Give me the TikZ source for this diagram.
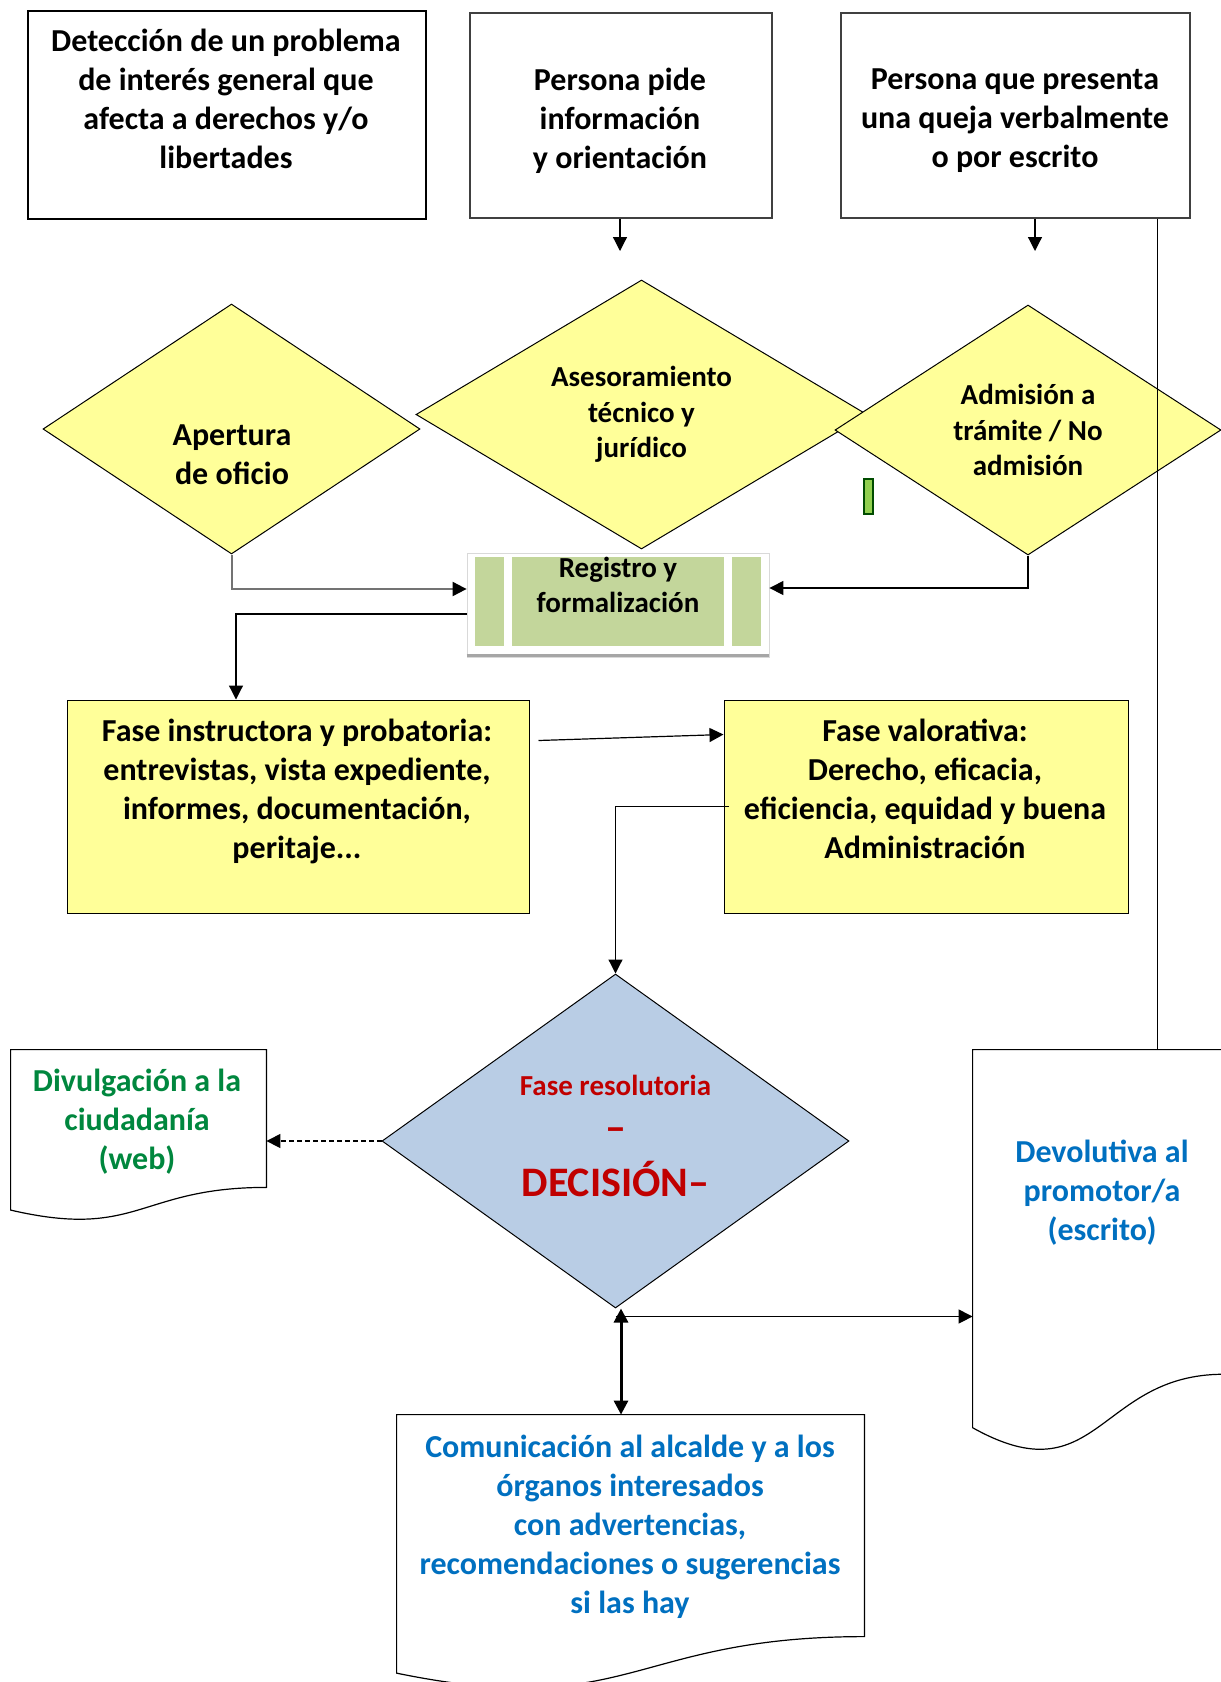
\documentclass[tikz,border=0pt]{standalone}
\usepackage{fontspec}
\setmainfont{Carlito}
\usetikzlibrary{shapes.geometric,arrows.meta,calc}
\definecolor{amarillo}{RGB}{255,255,153}
\definecolor{verdereg}{RGB}{195,214,155}
\definecolor{azuldec}{RGB}{185,205,229}
\definecolor{rojodec}{RGB}{192,0,0}
\definecolor{azultxt}{RGB}{0,112,192}
\definecolor{verdetxt}{RGB}{0,135,62}
\definecolor{verdemarca}{RGB}{146,208,80}
\begin{document}
\begin{tikzpicture}[x=0.5pt, y=-0.5pt, >={Triangle[length=7pt,width=7pt]},
  caja/.style={draw, fill=white, line width=0.6pt, inner sep=0pt},
  fase/.style={draw, fill=amarillo, line width=0.5pt, inner sep=0pt},
  rombo/.style={diamond, aspect=1.6, draw, fill=amarillo, line width=0.5pt, inner sep=0pt,
    align=center, font=\bfseries\fontsize{14.5pt}{17.7pt}\selectfont},
  hoja/.style={inner sep=0pt},
  txt/.style={align=center, inner sep=0pt, font=\bfseries\fontsize{16pt}{19.5pt}\selectfont},
  txtpeq/.style={align=center, inner sep=0pt, font=\bfseries\fontsize{14.5pt}{17.5pt}\selectfont},
  linea/.style={line width=0.6pt}]
\useasboundingbox (0,0) rectangle (1221,1682);
\clip (0,0) rectangle (1221,1682);
%
% cajas de arriba
\node[caja, line width=0.8pt, minimum width=199pt, minimum height=104pt] (deteccion) at (227,115) {};
\node[txt] (deteccion-txt) at (226,99) {Detección de un problema\\de interés general que\\afecta a derechos y/o\\libertades};
\node[caja, draw=black!75, minimum width=151pt, minimum height=102.5pt] (persona) at (621,115.5) {};
\node[txt] (persona-txt) at (620,120.5) {Persona pide\\información\\y orientación};
\node[caja, draw=black!75, minimum width=174.5pt, minimum height=102.5pt] (queja) at (1015.5,115.5) {};
\node[txt] (queja-txt) at (1015,120.5) {Persona que presenta\\una queja verbalmente\\o por escrito};
%
% rombos
\node[rombo, minimum width=188.5pt, minimum height=125pt] (apertura) at (231.5,429) {};
\node[txt] (apertura-txt) at (232,454.5) {Apertura\\de oficio};
\node[rombo, minimum width=225.5pt, minimum height=134.5pt] (asesora) at (641.5,414.5) {Asesoramiento\\técnico y\\jurídico};
\node[rombo, minimum width=193pt, minimum height=125pt] (admision) at (1028,430) {Admisión a\\trámite / No\\admisión};
\node[draw=black!70!green, fill=verdemarca, line width=0.8pt, minimum width=4.5pt, minimum height=17.5pt, inner sep=0pt] (marca) at (868.5,496.5) {};
%
% registro
\node[draw=black!15, fill=white, minimum width=151pt, minimum height=52pt, inner sep=0pt] (registro) at (618,605) {};
\fill[verdereg] ([shift={(4pt,-2pt)}]registro.north west) rectangle ([shift={(18.5pt,5.5pt)}]registro.south west);
\fill[verdereg] ([shift={(22.5pt,-2pt)}]registro.north west) rectangle ([shift={(128.5pt,5.5pt)}]registro.south west);
\fill[verdereg] ([shift={(132.5pt,-2pt)}]registro.north west) rectangle ([shift={(147pt,5.5pt)}]registro.south west);
\draw[black!35, line width=1.5pt] ([yshift=1pt]registro.south west) -- ([yshift=1pt]registro.south east);
\node[txtpeq] (registro-txt) at (618,584.5) {Registro y\\formalización};
%
% fases
\node[fase, minimum width=231pt, minimum height=106.5pt] (instructora) at (298,806.5) {};
\node[txt] (instructora-txt) at (297,791) {Fase instructora y probatoria:\\entrevistas, vista expediente,\\informes, documentación,\\peritaje...};
\node[fase, minimum width=202pt, minimum height=106.5pt] (valorativa) at (926,806.5) {};
\node[txt] (valorativa-txt) at (925,789) {Fase valorativa:\\Derecho, eficacia,\\eficiencia, equidad y buena\\Administración};
%
% decision
\node[rombo, fill=azuldec, minimum width=233.5pt, minimum height=167pt] (decision) at (615.5,1141) {};
\node[align=center, inner sep=0pt, text=rojodec, font=\bfseries\fontsize{14.5pt}{23pt}\selectfont] (decision-txt) at (615.5,1136)
  {Fase resolutoria\\{\fontsize{21pt}{23pt}\selectfont –}\\[4.5pt]{\fontsize{21pt}{23pt}\selectfont DECISIÓN–}};
%
% hojas
\node[hoja, minimum width=127.5pt, minimum height=85.5pt] (divulga) at (138.5,1135.5) {};
\node[hoja, minimum width=125pt, minimum height=202pt] (devolutiva) at (1098,1252) {};
\node[hoja, minimum width=233.5pt, minimum height=138pt] (comunica) at (630.5,1553) {};
\filldraw[fill=white, linea] (divulga.north west) -- (divulga.north east) -- ($(divulga.north east)!0.802!(divulga.south east)$)
  .. controls ($(divulga.north)!0.802!(divulga.south)$) and ($(divulga.north)!1.1075!(divulga.south)$) .. ($(divulga.north west)!0.934!(divulga.south west)$) -- cycle;
\filldraw[fill=white, linea] (devolutiva.north west) -- (devolutiva.north east) -- ($(devolutiva.north east)!0.802!(devolutiva.south east)$)
  .. controls ($(devolutiva.north)!0.802!(devolutiva.south)$) and ($(devolutiva.north)!1.1075!(devolutiva.south)$) .. ($(devolutiva.north west)!0.934!(devolutiva.south west)$) -- cycle;
\filldraw[fill=white, linea] (comunica.north west) -- (comunica.north east) -- ($(comunica.north east)!0.802!(comunica.south east)$)
  .. controls ($(comunica.north)!0.802!(comunica.south)$) and ($(comunica.north)!1.1075!(comunica.south)$) .. ($(comunica.north west)!0.934!(comunica.south west)$) -- cycle;
\node[txt, text=verdetxt] (divulga-txt) at (137,1122) {Divulgación a la\\ciudadanía\\(web)};
\node[txt, text=azultxt] (devolutiva-txt) at (1102,1193) {Devolutiva al\\promotor/a\\(escrito)};
\node[txt, text=azultxt] (comunica-txt) at (630,1527) {Comunicación al alcalde y a los\\órganos interesados\\con advertencias,\\recomendaciones o sugerencias\\si las hay};
%
% flechas
\coordinate (p1) at (620,251);
\coordinate (q1) at (1035,251);
\draw[->, linea] (persona.south -| p1) -- (p1);
\draw[->, linea] (queja.south -| q1) -- (q1);
\draw[linea] ([xshift=-16.5pt]queja.south east) -- ([xshift=-16.5pt]queja.south east |- devolutiva.north);
%
\draw[-{Triangle[length=7pt,width=7pt,black]}, line width=1pt, black!55] (apertura.south) |- ([yshift=8pt]registro.west);
\draw[->, linea] (admision.south) |- ([yshift=8.5pt]registro.east);
\draw[->, linea] ([yshift=-4.5pt]registro.west) -| ([xshift=2.25pt]apertura.south |- instructora.north);
\draw[->, linea] ([shift={(4.5pt,33pt)}]instructora.east) -- ([yshift=36pt]valorativa.west);
\draw[->, linea] ([xshift=2.5pt]valorativa.west) -| (decision.north);
%
\draw[->, linea, dash pattern=on 2.5pt off 1.5pt] (decision.west) -- (decision.west -| divulga.east);
\draw[->, linea] ([yshift=-4pt]decision.south) -- ([yshift=-4pt]decision.south -| devolutiva.west);
\draw[<->, line width=1.5pt] ([xshift=2.75pt]decision.south) -- ([xshift=2.75pt]decision.south |- comunica.north);
%
\end{tikzpicture}
\end{document}
